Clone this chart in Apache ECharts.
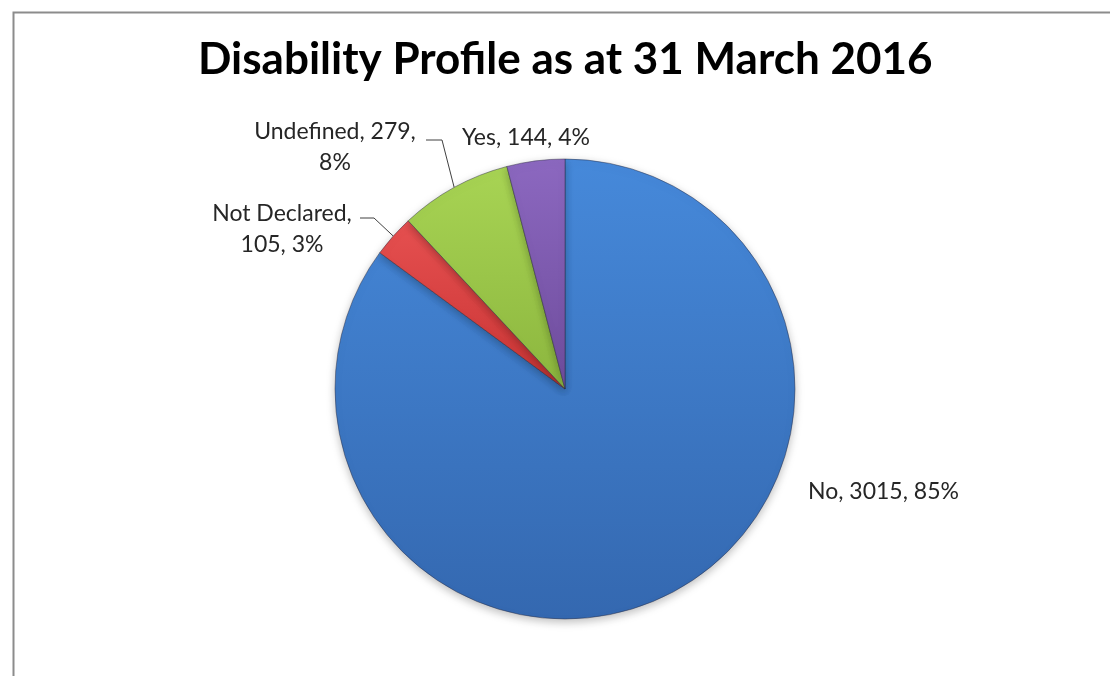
<!DOCTYPE html>
<html>
<head>
<meta charset="utf-8">
<script src="https://cdn.jsdelivr.net/npm/echarts@6/dist/echarts.min.js"></script>
<style>html,body{margin:0;padding:0;background:#fff;}#c{width:1110px;height:676px;}</style>
</head>
<body>
<div id="c"></div>
<script>
const titleText = 'Disability Profile as at 31 March 2016';
const categories = ['No', 'Not Declared', 'Undefined', 'Yes'];
const values = [3015, 105, 279, 144];

// styling / layout (not data)
const colorStops = [
  ['#4689da', '#3468b0'],
  ['#e65050', '#c83434'],
  ['#a8d454', '#8cb63e'],
  ['#8c68c0', '#6e4c9c']
];
// which comma-separated part to break after (-1 = no break)
const breakAfter = [-1, 0, 1, -1];
const labelPos = [
  {x: 808, y: 492, align: 'left', line: null},
  {x: 282, y: 229, align: 'center', line: [[374, 218], [360, 218]]},
  {x: 335, y: 147, align: 'center', line: [[442, 140], [426, 140]]},
  {x: 526, y: 138, align: 'center', line: null}
];

const data = categories.map((name, i) => ({
  name: name,
  value: values[i],
  itemStyle: {
    color: {type: 'linear', x: 0, y: 0, x2: 0, y2: 1,
      colorStops: [{offset: 0, color: colorStops[i][0]}, {offset: 1, color: colorStops[i][1]}]}
  },
  labelLine: {show: !!labelPos[i].line}
}));

const chart = echarts.init(document.getElementById('c'));
chart.setOption({
  backgroundColor: '#ffffff',
  animation: false,
  title: {
    text: titleText,
    left: 193,
    top: 33,
    textStyle: {fontFamily: 'Lato', fontWeight: 'bold', fontSize: 44, color: '#000000'}
  },
  graphic: [{
    type: 'rect', left: 11, top: 10, silent: true, z: -1,
    shape: {x: 0, y: 0, width: 1200, height: 800},
    style: {fill: 'none', stroke: '#8c8c8c', lineWidth: 2}
  }],
  series: [{
    type: 'pie',
    center: [565, 389],
    radius: 230,
    startAngle: 90,
    clockwise: true,
    percentPrecision: 0,
    data: data,
    itemStyle: {
      borderColor: 'rgba(40,40,60,0.45)',
      borderWidth: 1,
      shadowBlur: 8,
      shadowOffsetY: 3,
      shadowColor: 'rgba(0,0,0,0.25)'
    },
    label: {
      show: true,
      position: 'outside',
      fontFamily: 'Lato',
      fontSize: 23,
      lineHeight: 31,
      color: '#262626',
      formatter: function (p) {
        const parts = [p.name, String(p.value), p.percent + '%'];
        const b = breakAfter[p.dataIndex];
        if (b < 0) return parts.join(', ');
        return parts.slice(0, b + 1).join(', ') + ',\n' + parts.slice(b + 1).join(', ');
      }
    },
    labelLine: {
      show: true,
      lineStyle: {color: '#404040', width: 1}
    },
    labelLayout: function (params) {
      const lp = labelPos[params.dataIndex];
      const res = {x: lp.x, y: lp.y, align: lp.align, verticalAlign: 'middle', hideOverlap: false};
      if (lp.line && params.labelLinePoints) {
        const start = params.labelLinePoints[0];
        res.labelLinePoints = [start, lp.line[0], lp.line[1]];
      }
      return res;
    }
  }]
});
</script>
</body>
</html>
